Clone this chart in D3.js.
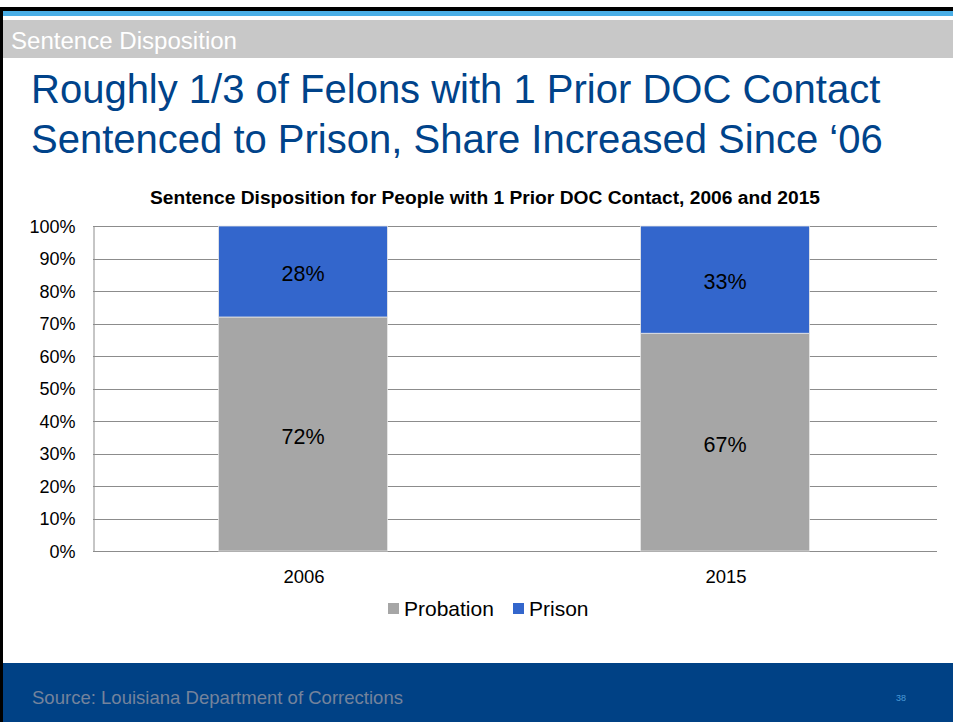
<!DOCTYPE html>
<html>
<head>
<meta charset="utf-8">
<script src="https://cdn.jsdelivr.net/npm/d3@7"></script>
<style>
  html, body { margin: 0; padding: 0; background: #fff; }
  svg { display: block; }
</style>
</head>
<body>
<svg id="slide" width="953" height="722"></svg>
<script>
// Chart data
const years = ["2006", "2015"];
const seriesNames = ["Probation", "Prison"];
const probation = [72, 67];
const prison = [28, 33];
const yTicks = [0, 10, 20, 30, 40, 50, 60, 70, 80, 90, 100];
const seriesColors = ["#a6a6a6", "#3366cc"];

const svg = d3.select("#slide");
const W = 953, H = 722;
const sans = "'Liberation Sans', Arial, sans-serif";

// Slide frame: top rule, accent strip, section band, left border, footer
svg.append("rect").attr("x", 0).attr("y", 7).attr("width", W).attr("height", 4).attr("fill", "#000");
svg.append("rect").attr("x", 0).attr("y", 11).attr("width", W).attr("height", 5).attr("fill", "#4aaee6");
svg.append("rect").attr("x", 0).attr("y", 20).attr("width", W).attr("height", 38).attr("fill", "#c8c8c8");
svg.append("rect").attr("x", 0).attr("y", 663).attr("width", W).attr("height", H - 663).attr("fill", "#004185");
svg.append("rect").attr("x", 0).attr("y", 7).attr("width", 3).attr("height", H - 7).attr("fill", "#000");

svg.append("text").attr("x", 11).attr("y", 49)
  .attr("font-family", sans).attr("font-size", 23).attr("fill", "#fff")
  .attr("textLength", 226).attr("lengthAdjust", "spacingAndGlyphs")
  .text("Sentence Disposition");

const titleLines = ["Roughly 1/3 of Felons with 1 Prior DOC Contact",
                    "Sentenced to Prison, Share Increased Since \u201806"];
svg.append("g").selectAll("text").data(titleLines).join("text")
  .attr("x", 31).attr("y", (d, i) => 103 + i * 50)
  .attr("font-family", sans).attr("font-size", 40).attr("fill", "#00438a")
  .text(d => d);

svg.append("text").attr("x", 32).attr("y", 704)
  .attr("font-family", sans).attr("font-size", 19).attr("fill", "#74839c")
  .attr("textLength", 371).attr("lengthAdjust", "spacingAndGlyphs")
  .text("Source: Louisiana Department of Corrections");
svg.append("text").attr("x", 896).attr("y", 701)
  .attr("font-family", sans).attr("font-size", 9).attr("fill", "#4a9ad8")
  .text("38");

// Chart
const plot = { left: 93, right: 937, top: 226, bottom: 551 };

svg.append("text").attr("x", 485).attr("y", 204).attr("text-anchor", "middle")
  .attr("font-family", sans).attr("font-size", 17.5).attr("font-weight", "bold").attr("fill", "#000")
  .attr("textLength", 670).attr("lengthAdjust", "spacingAndGlyphs")
  .text("Sentence Disposition for People with 1 Prior DOC Contact, 2006 and 2015");

const x = d3.scaleBand().domain(years).range([plot.left, plot.right]).paddingInner(0.6).paddingOuter(0.3);
const y = d3.scaleLinear().domain([0, 100]).range([plot.bottom, plot.top]);

// Gridlines
svg.append("g").selectAll("line").data(yTicks).join("line")
  .attr("x1", plot.left).attr("x2", plot.right)
  .attr("y1", d => Math.round(y(d)) + 0.5).attr("y2", d => Math.round(y(d)) + 0.5)
  .attr("stroke", "#8c8c8c").attr("stroke-width", 1);

// Y axis
const yAxis = svg.append("g").attr("transform", `translate(${plot.left + 0.5},0)`)
  .call(d3.axisLeft(y).tickValues(yTicks).tickFormat(d => d + "%").tickSize(0).tickPadding(18));
yAxis.select(".domain").attr("stroke", "#8c8c8c");
yAxis.selectAll("text").attr("font-family", sans).attr("font-size", 18).attr("fill", "#000").attr("dy", "0.36em");

// X axis labels
const xAxis = svg.append("g").attr("transform", `translate(0,${plot.bottom})`)
  .call(d3.axisBottom(x).tickSize(0).tickPadding(16));
xAxis.select(".domain").remove();
xAxis.selectAll("text").attr("font-family", sans).attr("font-size", 18.5).attr("fill", "#000").attr("dy", "0.85em");

// Stacked bars
const rows = years.map((yr, i) => ({ year: yr, Probation: probation[i], Prison: prison[i] }));
const stacked = d3.stack().keys(seriesNames)(rows);

const layers = svg.append("g").selectAll("g").data(stacked).join("g")
  .attr("fill", (d, i) => seriesColors[i]);

layers.selectAll("rect").data(d => d).join("rect")
  .attr("x", d => x(d.data.year) - 1)
  .attr("width", x.bandwidth())
  .attr("y", d => y(d[1]))
  .attr("height", d => y(d[0]) - y(d[1]))
  .attr("stroke", "#e6e6e6").attr("stroke-width", 0.8);

// Value labels
layers.selectAll("text").data(d => d).join("text")
  .attr("x", d => x(d.data.year) + x.bandwidth() / 2 - 1)
  .attr("y", d => y((d[0] + d[1]) / 2) + 2)
  .attr("dy", "0.36em")
  .attr("text-anchor", "middle")
  .attr("font-family", sans).attr("font-size", 21.5).attr("fill", "#000")
  .text(d => (d[1] - d[0]) + "%");

// Legend
const legendX = [388, 513];
const legend = svg.append("g").selectAll("g").data(seriesNames).join("g")
  .attr("transform", (d, i) => `translate(${legendX[i]},603)`);
legend.append("rect").attr("width", 11).attr("height", 11).attr("fill", (d, i) => seriesColors[i]);
legend.append("text").attr("x", 16).attr("y", 5.5).attr("dy", "0.36em")
  .attr("font-family", sans).attr("font-size", 21).attr("fill", "#000")
  .text(d => d);
</script>
</body>
</html>
